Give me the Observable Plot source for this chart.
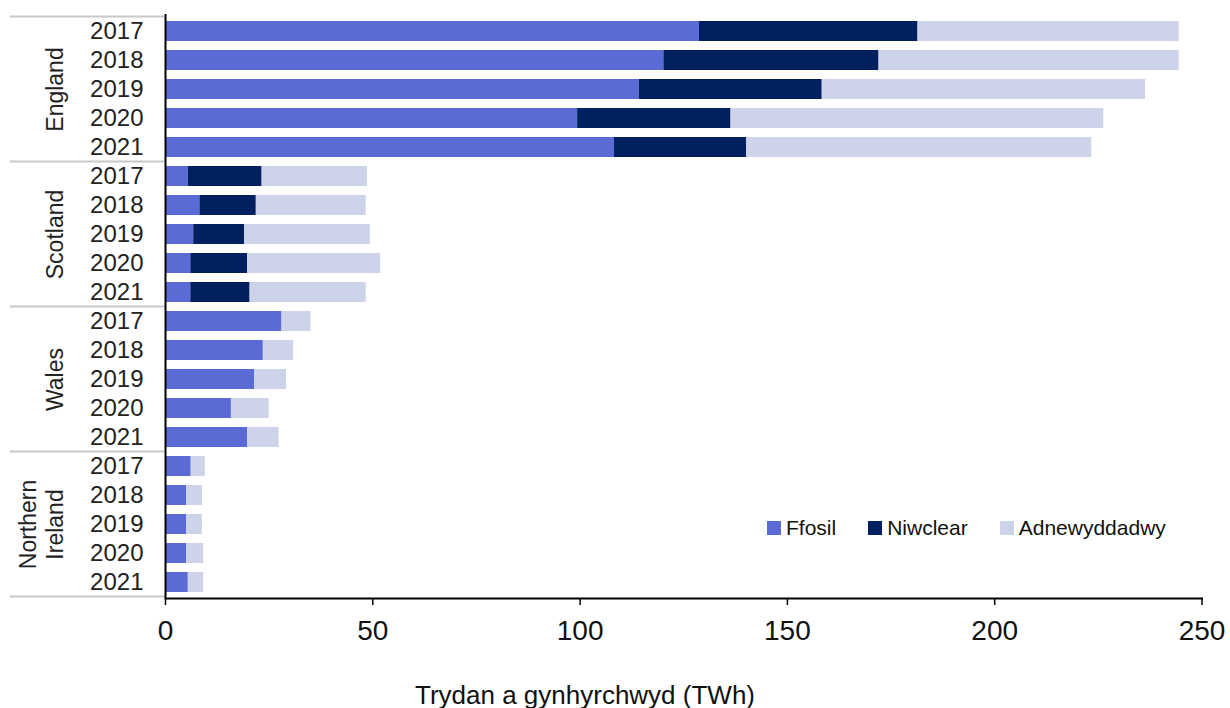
<!DOCTYPE html>
<html>
<head>
<meta charset="utf-8">
<script src="https://cdn.jsdelivr.net/npm/d3@7"></script>
<script src="https://cdn.jsdelivr.net/npm/@observablehq/plot@0.6"></script>
<style>
  body { margin: 0; background: #fff; font-family: "Liberation Sans", Arial, sans-serif; overflow: hidden; }
  #wrap { position: relative; width: 1230px; height: 708px; }
  #legend { position: absolute; left: 767px; top: 516px; display: flex; gap: 32px; font-size: 21px; line-height: 24px; color: #111; }
  .item { display: flex; align-items: center; }
  .sw { width: 14px; height: 14px; margin-right: 5px; }
  #caption { position: absolute; left: 0; top: 680px; width: 1170px; text-align: center; font-size: 26px; line-height: 30px; color: #111; }
</style>
</head>
<body>
<div id="wrap"></div>
<script>
// ---- data ----
const regions = ["England", "Scotland", "Wales", "Northern Ireland"];
const regionLabels = ["England", "Scotland", "Wales", "Northern\nIreland"];
const years = ["2017", "2018", "2019", "2020", "2021"];
const sources = ["Ffosil", "Niwclear", "Adnewyddadwy"];
const colors = ["#5b6bd6", "#002060", "#cdd3e8"];
const xTicks = [0, 50, 100, 150, 200, 250];
const axisTitle = "Trydan a gynhyrchwyd (TWh)";

// TWh, ordered region by region, 2017..2021
const fossil    = [128.8, 120.2, 114.3, 99.4, 108.3,   5.5, 8.3, 6.8, 6.1, 6.1,   28.1, 23.6, 21.5, 15.9, 19.8,   6.2, 5.1, 5.1, 5.1, 5.5];
const nuclear   = [52.7, 51.9, 44.1, 37.0, 31.9,      17.8, 13.6, 12.3, 13.7, 14.3,   0, 0, 0, 0, 0,             0, 0, 0, 0, 0];
const renewable = [63.0, 72.4, 78.0, 89.9, 83.2,      25.4, 26.5, 30.3, 32.1, 28.0,   7.0, 7.3, 7.7, 9.1, 7.6,   3.4, 3.8, 3.8, 4.1, 3.7];

// ---- build table ----
const keys = regions.flatMap(r => years.map(y => r + "|" + y));
const seriesValues = [fossil, nuclear, renewable];
const table = keys.flatMap((k, i) => sources.map((s, si) => ({key: k, source: s, value: seriesValues[si][i]})));

function groupRules(index, scales, values, dims) {
  const y = scales.y;
  const bw = typeof y.bandwidth === "function" ? y.bandwidth() : 0;
  const c = k => y(k) + bw / 2;
  const step = c(keys[1]) - c(keys[0]);
  const ys = regions.map(r => c(r + "|" + years[0]) - step / 2)
    .concat([c(keys[keys.length - 1]) + step / 2]);
  const g = d3.create("svg:g").attr("stroke", "#c8c8c8").attr("stroke-width", 2);
  g.selectAll("line").data(ys).join("line")
    .attr("x1", dims.marginLeft - 155).attr("x2", dims.marginLeft - 1)
    .attr("y1", d => d).attr("y2", d => d);
  return g.node();
}

const chart = Plot.plot({
  width: 1230,
  height: 660,
  marginLeft: 165,
  marginRight: 28.5,
  marginTop: 14,
  marginBottom: 62,
  style: {fontFamily: "'Liberation Sans', Arial, sans-serif", fontSize: "23px", color: "#222", background: "transparent"},
  x: {domain: [0, 250]},
  y: {domain: keys, paddingInner: 0.315, paddingOuter: 0.1575, align: 0.5},
  color: {domain: sources, range: colors},
  marks: [
    Plot.barX(table, {x: "value", y: "key", fill: "source"}),
    Plot.axisY({tickFormat: k => k.split("|")[1], tickSize: 0, tickPadding: 22, fontSize: 24, fill: "#222", label: null}),
    Plot.axisX({ticks: xTicks, tickSize: 7, tickPadding: 15, fontSize: 28, fill: "#111", stroke: "#000", strokeWidth: 1.5, label: null}),
    Plot.ruleX([0], {stroke: "#000", strokeWidth: 2}),
    Plot.frame({anchor: "bottom", stroke: "#000", strokeWidth: 2}),
    Plot.text(regions, {
      y: r => r + "|" + years[2],
      text: (r, i) => regionLabels[i],
      frameAnchor: "left",
      textAnchor: "middle",
      dx: -103,
      rotate: -90,
      lineAnchor: "bottom",
      lineHeight: 1.17,
      fontSize: 23,
      fill: "#222"
    }),
    groupRules
  ]
});

const wrap = document.getElementById("wrap");
wrap.appendChild(chart);

const legend = document.createElement("div");
legend.id = "legend";
sources.forEach((s, i) => {
  const item = document.createElement("div");
  item.className = "item";
  const sw = document.createElement("span");
  sw.className = "sw";
  sw.style.background = colors[i];
  const t = document.createElement("span");
  t.textContent = s;
  item.appendChild(sw);
  item.appendChild(t);
  legend.appendChild(item);
});
wrap.appendChild(legend);

const cap = document.createElement("div");
cap.id = "caption";
cap.textContent = axisTitle;
wrap.appendChild(cap);
</script>
</body>
</html>
